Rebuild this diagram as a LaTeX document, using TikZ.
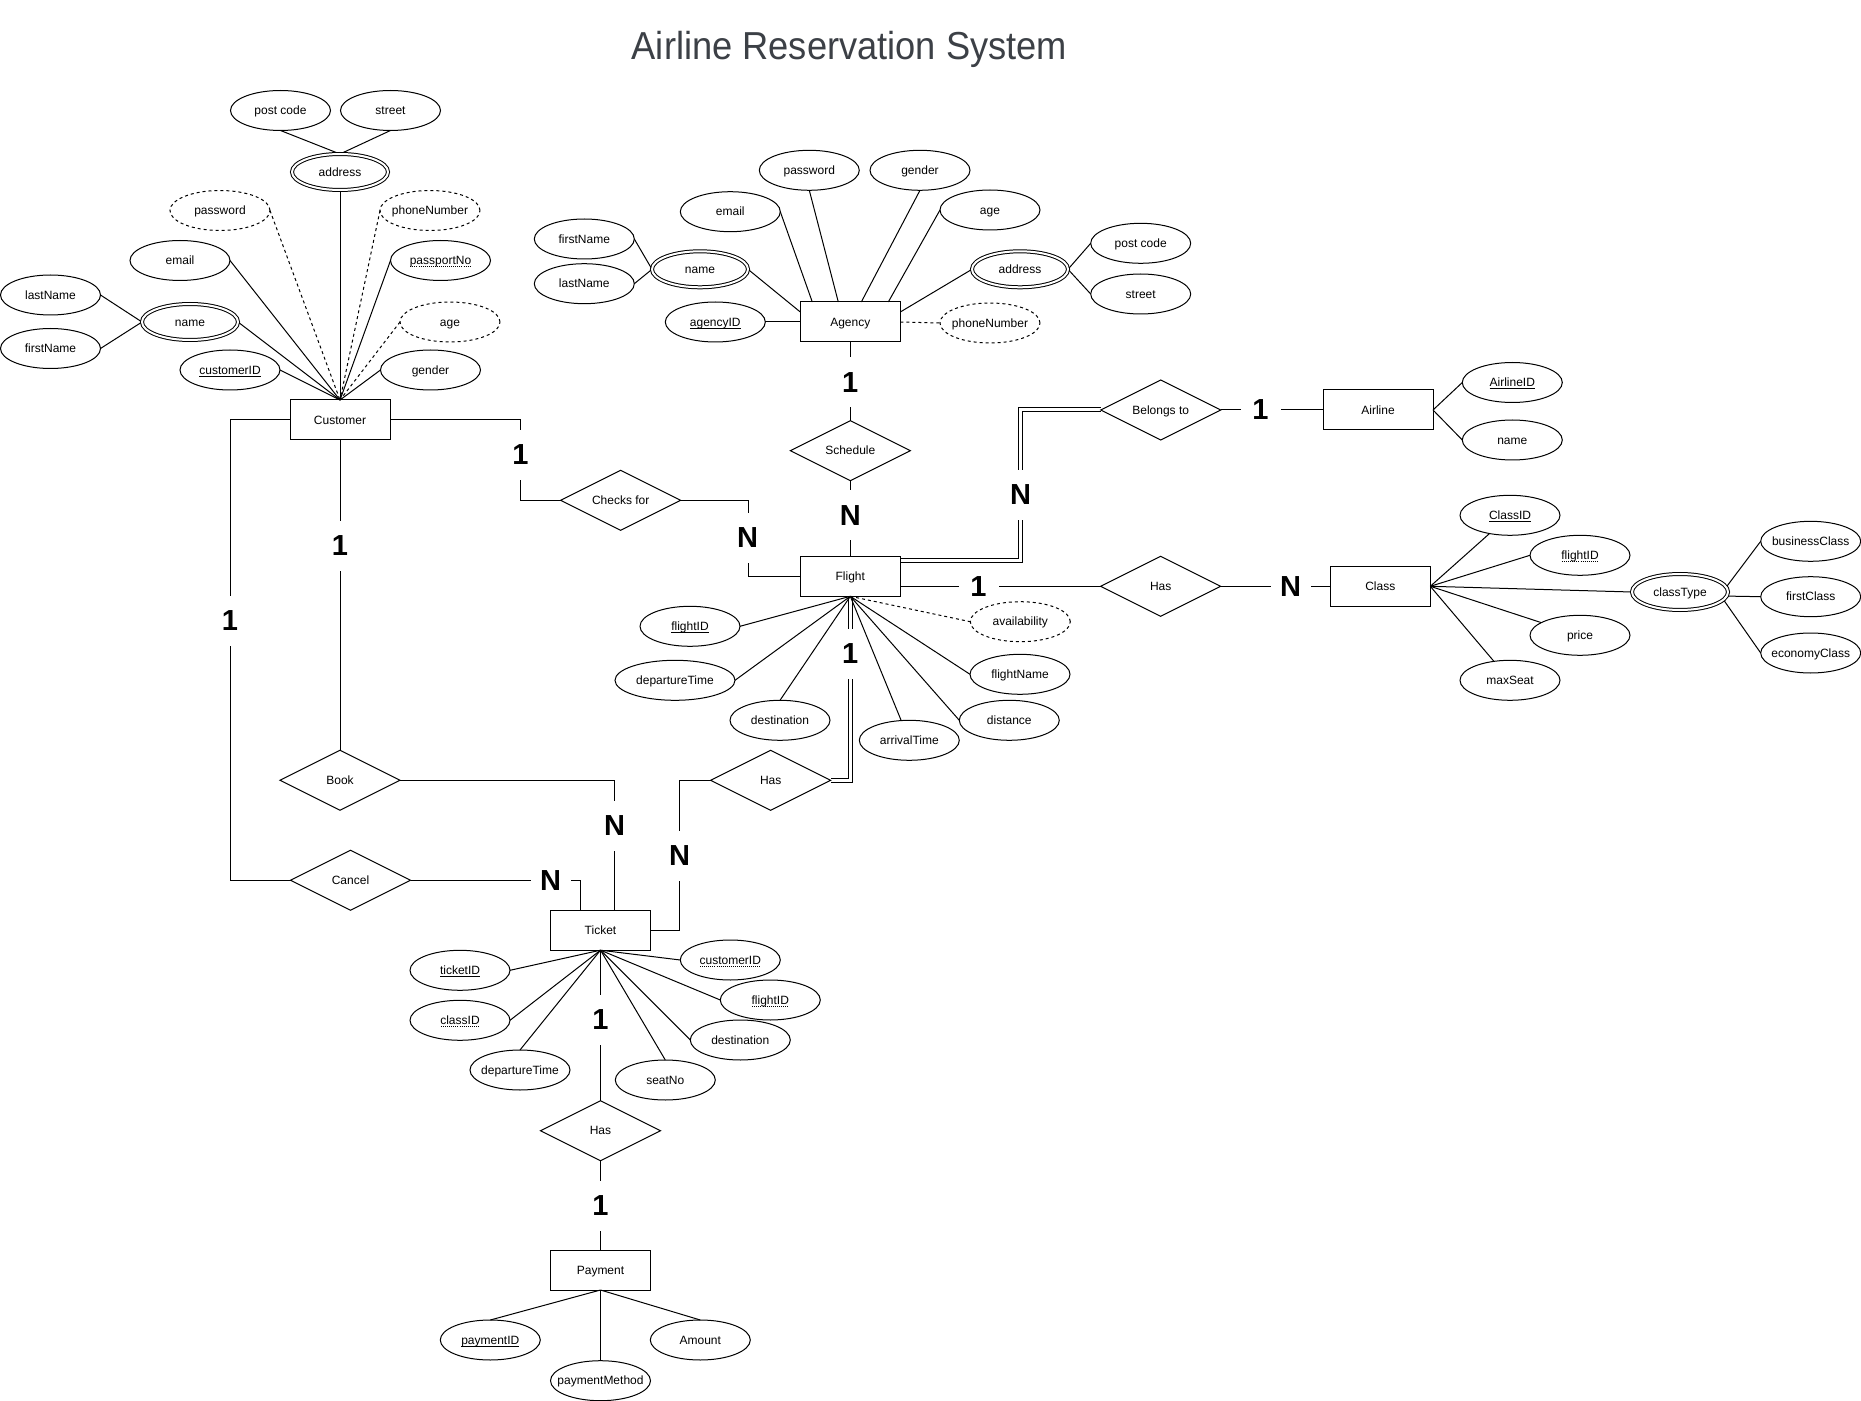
\documentclass[tikz,border=0pt]{standalone}
\usepackage{fontspec}
\setmainfont{Liberation Sans}
\usepackage{graphicx}
\usetikzlibrary{shapes.geometric,calc}
\definecolor{titlegray}{RGB}{60,64,70}
\pgfdeclarelayer{bgfill}
\pgfdeclarelayer{edges}
\pgfsetlayers{bgfill,edges,main}
\newcommand\mb[1]{\makebox[0pt]{#1}}
\newcommand\solidul[1]{\leavevmode\setbox0\hbox{#1}\rlap{\raisebox{-1.7pt}{\rule{\wd0}{0.6pt}}}\box0}
\newcommand\dottedul[1]{\leavevmode\setbox0\hbox{#1}\rlap{\raisebox{-2pt}{\hbox to\wd0{\xleaders\hbox to 1.5pt{\hss\vrule width 0.75pt height 0.7pt depth 0pt\hss}\hfil}}}\box0}
\tikzset{
 base/.style={line width=0.75pt, inner sep=0pt, outer sep=0pt, font=\fontsize{9}{10.8}\selectfont, text height=8.14pt, text depth=1.9pt},
 ent/.style={base, draw, rectangle, minimum width=75pt, minimum height=30pt},
 attr/.style={base, draw, ellipse, minimum width=75pt, minimum height=30pt},
 dattr/.style={attr, dash pattern=on 2.25pt off 2.25pt},
 mattr/.style={base, draw, ellipse, double, double distance=1.5pt, minimum width=72pt, minimum height=27pt},
 rel/.style={base, draw, diamond, minimum width=90pt, minimum height=45pt},
 card/.style={fill=white, inner sep=0pt, outer sep=0pt, font=\fontsize{21.75}{26}\selectfont\bfseries},
 cardv/.style={card, minimum width=14pt, minimum height=37.5pt},
 cardh/.style={card, minimum width=30pt, minimum height=18pt},
 conn/.style={line width=0.75pt},
 dconn/.style={conn, dash pattern=on 2.25pt off 2.25pt},
 dbl/.style={line width=0.75pt, double, double distance=2.25pt},
}
\begin{document}
\begin{tikzpicture}[x=0.75pt,y=-0.75pt]
\useasboundingbox (0,0) rectangle (1861,1401);
\begin{pgfonlayer}{bgfill}
\fill[white] (0,0) rectangle (1861,1401);
\end{pgfonlayer}

% title
\node[anchor=base, text=titlegray, inner sep=0pt, font=\fontsize{29.25}{34}\selectfont] (title) at (849.5,60) {\scalebox{0.93}[1]{Airline Reservation System}};

% ---------- Customer ----------
\node[ent] (cust) at (340,420) {\mb{Customer}};
\node[attr] (cpost) at (280.5,110.5) {\mb{post code}};
\node[attr] (cstreet) at (390.5,110.5) {\mb{street}};
\node[mattr] (caddr) at (340,172) {\mb{address}};
\node[dattr] (cpass) at (220,210.5) {\mb{password}};
\node[dattr] (cphone) at (430,210.5) {\mb{phoneNumber}};
\node[attr] (cemail) at (180,260.5) {\mb{email}};
\node[attr] (cpassport) at (440.5,260.5) {\mb{\dottedul{passportNo}}};
\node[attr] (clast) at (50.5,295) {\mb{lastName}};
\node[attr] (cfirst) at (50.5,348.5) {\mb{firstName}};
\node[mattr] (cname) at (190,322) {\mb{name}};
\node[dattr] (cage) at (450,322) {\mb{age}};
\node[attr] (cid) at (230,370) {\mb{\solidul{customerID}}};
\node[attr] (cgender) at (430.5,370) {\mb{gender}};

% ---------- Agency ----------
\node[ent] (agency) at (850.3,322) {\mb{Agency}};
\node[attr] (apass) at (809.3,170.3) {\mb{password}};
\node[attr] (agender) at (920,170.3) {\mb{gender}};
\node[attr] (aemail) at (730.3,211.7) {\mb{email}};
\node[attr] (aage) at (990,210) {\mb{age}};
\node[attr] (afirst) at (584.3,239) {\mb{firstName}};
\node[attr] (alast) at (584.3,283.7) {\mb{lastName}};
\node[mattr] (aname) at (700,269.3) {\mb{name}};
\node[attr] (aid) at (715.3,322) {\mb{\solidul{agencyID}}};
\node[mattr] (aaddr) at (1020,269.3) {\mb{address}};
\node[attr] (apost) at (1140.7,243.3) {\mb{post code}};
\node[attr] (astreet) at (1140.7,294) {\mb{street}};
\node[dattr] (aphone) at (990,323) {\mb{phoneNumber}};

% ---------- Relationships ----------
\node[rel] (sched) at (850.3,450.7) {\mb{Schedule}};
\node[rel] (checks) at (620.7,500.3) {\mb{Checks for}};
\node[rel] (belongs) at (1160.7,410) {\mb{Belongs to}};
\node[rel] (hasc) at (1160.7,586.3) {\mb{Has}};
\node[rel] (hast) at (770.7,780.3) {\mb{Has}};
\node[rel] (book) at (340,780.3) {\mb{Book}};
\node[rel] (cancel) at (350.5,880.3) {\mb{Cancel}};
\node[rel] (hasp) at (600.5,1130.7) {\mb{Has}};

% ---------- Flight ----------
\node[ent] (flight) at (850.3,576.3) {\mb{Flight}};
\node[attr] (fid) at (690,626.3) {\mb{\solidul{flightID}}};
\node[attr, minimum width=90pt] (fdep) at (675,680.3) {\mb{departureTime}};
\node[attr] (fdest) at (780,720.3) {\mb{destination}};
\node[attr] (farr) at (909.3,740.3) {\mb{arrivalTime}};
\node[dattr] (favail) at (1020.3,621.7) {\mb{availability}};
\node[attr] (fname) at (1020,674.3) {\mb{flightName}};
\node[attr] (fdist) at (1009.3,720.3) {\mb{distance}};

% ---------- Airline ----------
\node[ent, minimum width=82.5pt] (airline) at (1378,410) {\mb{Airline}};
\node[attr] (alid) at (1512.3,382.5) {\mb{\solidul{AirlineID}}};
\node[attr] (alname) at (1512.3,440) {\mb{name}};

% ---------- Class ----------
\node[ent] (class) at (1380.3,586.3) {\mb{Class}};
\node[attr] (clsid) at (1510,515.3) {\mb{\solidul{ClassID}}};
\node[attr] (clflight) at (1580,555.3) {\mb{\dottedul{flightID}}};
\node[mattr] (ctype) at (1680,592) {\mb{classType}};
\node[attr] (cprice) at (1580,635.3) {\mb{price}};
\node[attr] (cmax) at (1510,680.3) {\mb{maxSeat}};
\node[attr] (clbus) at (1810.7,541.3) {\mb{businessClass}};
\node[attr] (clfirst) at (1810.7,596.7) {\mb{firstClass}};
\node[attr] (cleco) at (1810.7,653) {\mb{economyClass}};

% ---------- Ticket ----------
\node[ent] (ticket) at (600.5,930.2) {\mb{Ticket}};
\node[attr] (tid) at (460,970.3) {\mb{\solidul{ticketID}}};
\node[attr] (tcls) at (460,1020.3) {\mb{\dottedul{classID}}};
\node[attr] (tdep) at (520,1070) {\mb{departureTime}};
\node[attr] (tseat) at (665.3,1080) {\mb{seatNo}};
\node[attr] (tdest) at (740.3,1040) {\mb{destination}};
\node[attr] (tflight) at (770.3,1000) {\mb{\dottedul{flightID}}};
\node[attr] (tcust) at (730.3,960) {\mb{\dottedul{customerID}}};

% ---------- Payment ----------
\node[ent] (payment) at (600.5,1270) {\mb{Payment}};
\node[attr] (pid) at (490.3,1340) {\mb{\solidul{paymentID}}};
\node[attr] (pmeth) at (600.5,1380.7) {\mb{paymentMethod}};
\node[attr] (pamt) at (700.3,1340) {\mb{Amount}};

% ---------- Connectors ----------
\begin{pgfonlayer}{edges}
% double (total participation) lines first
\draw[dbl] (flight.south) |- (hast.east);
\draw[dbl] (belongs.west) -| ($(flight.east)+(120.2,-16.3)$) -- ($(flight.east)+(0,-16.3)$);

% customer attributes
\draw[conn] (cemail.east) -- (cust.north);
\draw[dconn] (cpass.east) -- (cust.north);
\draw[conn] (cname.east) -- (cust.north);
\draw[conn] (cid.east) -- (cust.north);
\draw[conn] (caddr.south) -- (cust.north);
\draw[dconn] (cphone.west) -- (cust.north);
\draw[conn] (cpassport.west) -- (cust.north);
\draw[dconn] (cage.west) -- (cust.north);
\draw[conn] (cgender.west) -- (cust.north);
\draw[conn] (cpost.south) -- (caddr.north);
\draw[conn] (cstreet.south) -- (caddr.north);
\draw[conn] (clast.east) -- (cname.west);
\draw[conn] (cfirst.east) -- (cname.west);

% agency attributes
\draw[conn] (aemail.east) -- ($(agency.north west)+(12,0)$);
\draw[conn] (apass.south) -- ($(agency.north west)+(38,0)$);
\draw[conn] (agender.south) -- ($(agency.north west)+(61,0)$);
\draw[conn] (aage.west) -- ($(agency.north west)+(88,0)$);
\draw[conn] (aname.east) -- ($(agency.west)+(0,-10)$);
\draw[conn] (aaddr.west) -- ($(agency.east)+(0,-10)$);
\draw[conn] (aid.east) -- (agency.west);
\draw[dconn] (agency.east) -- (aphone.west);
\draw[conn] (afirst.east) -- (aname.west);
\draw[conn] (alast.east) -- (aname.west);
\draw[conn] (aaddr.east) -- (apost.west);
\draw[conn] (aaddr.east) -- (astreet.west);

% flight attributes
\draw[conn] (flight.south) -- (fid.east);
\draw[conn] (flight.south) -- (fdep.east);
\draw[conn] (flight.south) -- (fdest.north);
\draw[conn] (flight.south) -- (farr);
\draw[conn] (flight.south) -- (fdist.west);
\draw[conn] (flight.south) -- (fname.west);
\draw[dconn] (flight.south) -- (favail.west);

% airline attributes
\draw[conn] (airline.east) -- (alid.west);
\draw[conn] (airline.east) -- (alname.west);

% class attributes
\draw[conn] (class.east) -- (clsid);
\draw[conn] (class.east) -- (clflight.west);
\draw[conn] (class.east) -- (ctype.west);
\draw[conn] (class.east) -- (cprice);
\draw[conn] (class.east) -- (cmax);
\draw[conn] (ctype.6) -- (clbus.west);
\draw[conn] (ctype.-5) -- (clfirst.west);
\draw[conn] (ctype.-10) -- (cleco.west);

% ticket attributes
\draw[conn] (ticket.south) -- (tid.east);
\draw[conn] (ticket.south) -- (tcls.east);
\draw[conn] (ticket.south) -- (tdep.north);
\draw[conn] (ticket.south) -- (tseat.north);
\draw[conn] (ticket.south) -- (tdest.west);
\draw[conn] (ticket.south) -- (tflight.west);
\draw[conn] (ticket.south) -- (tcust.west);

% payment attributes
\draw[conn] (payment.south) -- (pid.north);
\draw[conn] (payment.south) -- (pmeth.north);
\draw[conn] (payment.south) -- (pamt.north);

% relationships
\draw[conn] (agency.south) -- (sched.north);
\draw[conn] (sched.south) -- (flight.north);
\draw[conn] (cust.east) -- ++(130.5,0) |- (checks.west);
\draw[conn] (checks.east) -| ($(flight.west)+(-52.3,0)$) -- (flight.west);
\draw[conn] (cust.west) -- ++(-60,0) |- (cancel.west);
\draw[conn] (cust.south) -- (book.north);
\draw[conn] (book.east) -| ($(ticket.north)+(14,0)$);
\draw[conn] (cancel.east) -| ($(ticket.north)+(-20,0)$);
\draw[conn] (hast.west) -| ($(ticket.east)+(29,0)$) -- (ticket.east);
\draw[conn] (belongs.east) -- (airline.west);
\draw[conn] ($(flight.east)+(0,10)$) -- (hasc.west);
\draw[conn] (hasc.east) -- (class.west);
\draw[conn] (ticket.south) -- (hasp.north);
\draw[conn] (hasp.south) -- (payment.north);
\end{pgfonlayer}

% ---------- Cardinalities ----------
\node[cardv] (k1) at (850.3,382.5) {1};
\node[cardv] (k2) at (850.3,515.3) {N};
\node[cardv] (k3) at (520.5,455) {1};
\node[cardv] (k4) at (747.7,538) {N};
\node[cardv] (k5) at (230,621) {1};
\node[cardv] (k6) at (340,546) {1};
\node[cardv] (k7) at (614.5,826) {N};
\node[cardh] (k8) at (550.5,880.3) {N};
\node[cardv] (k9) at (679.5,855.5) {N};
\node[cardv] (k10) at (850.3,654) {1};
\node[cardv] (k11) at (1020.5,495) {N};
\node[cardh] (k12) at (1260.5,410) {1};
\node[cardh] (k13) at (978.5,586.3) {1};
\node[cardh] (k14) at (1290.5,586.3) {N};
\node[cardv] (k15) at (600.5,1019.5) {1};
\node[cardv] (k16) at (600.5,1205.5) {1};
\end{tikzpicture}
\end{document}
